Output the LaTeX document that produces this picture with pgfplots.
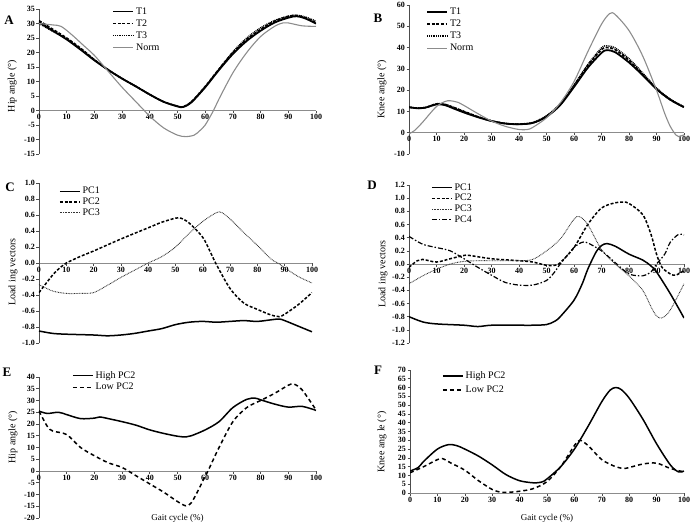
\documentclass[border=0pt]{standalone}
\usepackage{fontspec}
\setmainfont{Liberation Serif}
\usepackage{pgfplots}
\pgfplotsset{compat=1.18}

\pgfplotsset{
  panel/.style={
    scale only axis, anchor=south west,
    axis y line*=left, axis x line*=middle,
    enlargelimits=false,
    xmin=0, xmax=100, xtick={0,10,...,100},
    hide obscured x ticks=false,
    tick align=outside, major tick length=2.5pt,
    tick style={black!70, line width=0.6pt},
    x axis line style={black!45, line width=0.8pt},
    y axis line style={black!70, line width=0.7pt},
    tick label style={font=\fontsize{8}{9}\selectfont\bfseries},
    /pgf/number format/assume math mode=true,
    xticklabel style={inner sep=1pt},
    yticklabel style={inner sep=1.5pt},
    label style={font=\fontsize{10}{12}\selectfont},
    xlabel style={font=\fontsize{9}{11}\selectfont},
    legend style={draw=none, fill=none, anchor=north west,
      font=\fontsize{10}{11}\selectfont, row sep=0pt},
    legend cell align=left,
    legend image code/.code={\draw[##1] (0pt,0pt) -- (20pt,0pt);},
  },
  yl/.style 2 args={ylabel style={at={(axis description cs:#1,#2)}, anchor=center}},
  s1/.style={black, line width=1.8pt, smooth},
  s2/.style={black, line width=1.6pt, dash pattern=on 3pt off 1.6pt, smooth},
  s3/.style={black, line width=1.5pt, dash pattern=on 0.9pt off 0.9pt, smooth},
  sn/.style={black!45, line width=1.1pt, smooth},
  p1/.style={black, line width=1.5pt, smooth},
  p2/.style={black, line width=1.5pt, dash pattern=on 3pt off 1.8pt, smooth},
  p3/.style={black!80, line width=0.9pt, dash pattern=on 0.8pt off 0.8pt, smooth},
  p4/.style={black, line width=1.2pt, dash pattern=on 5pt off 2pt on 1.5pt off 2pt, smooth},
  l2/.style={black, line width=1.5pt, dash pattern=on 4pt off 3pt, smooth},
}

\begin{document}
\begin{tikzpicture}
\path[use as bounding box] (0,0) rectangle (697pt,-528pt);

% ---------- A: hip angle ----------
\begin{axis}[panel, at={(39pt,-154pt)}, width=277pt, height=145pt,
  ymin=-15, ymax=35, ytick={-15,-10,...,35},
  ylabel={Hip angle (°)}, yl={-0.097}{0.469},
  legend style={at={(axis description cs:0.253,1.04)}}]
\addplot[s1] coordinates {(0,30.5)(5,27.5)(10,24.5)(15,21)(20,17.3)(25,14)(30,11)(35,8.3)(40,5.5)(45,3)(50,1.4)(52,1.2)(55,2.8)(60,8)(65,14)(70,19.5)(75,24)(80,27.5)(85,30.3)(90,32)(93,32.5)(96,31.8)(100,30)};
\addplot[s2] coordinates {(0,31)(5,28)(10,25)(15,21.5)(20,17.5)(25,14)(30,11)(35,8.3)(40,5.5)(45,3)(50,1.5)(52,1.3)(55,3)(60,8.3)(65,14.3)(70,20)(75,24.5)(80,28)(85,30.8)(90,32.5)(93,32.8)(96,32)(100,30.3)};
\addplot[s3] coordinates {(0,30)(5,27.3)(10,24.7)(15,21.3)(20,17.5)(25,14)(30,11)(35,8.3)(40,5.5)(45,3)(50,1.5)(52,1.2)(55,3)(60,8.2)(65,14.3)(70,20.2)(75,25)(80,28.5)(85,31)(90,32.5)(93,32.8)(96,32.3)(100,30.8)};
\addplot[sn] coordinates {(0,30)(5,29.5)(8,29)(12,26)(16,22.5)(20,19)(25,13.5)(30,8)(35,3)(38,0)(40,-2)(45,-6)(50,-8.5)(53,-9)(56,-8.5)(58,-7)(60,-5)(63,0)(65,4)(70,13)(75,20)(80,25.5)(85,29)(88,30.2)(90,30.2)(95,29.2)(100,29)};
\legend{T1,T2,T3,Norm}
\end{axis}

% ---------- B: knee angle ----------
\begin{axis}[panel, at={(409pt,-154pt)}, width=275pt, height=149pt,
  ymin=-10, ymax=60, ytick={-10,0,...,60},
  ylabel={Knee angle (°)}, yl={-0.098}{0.436},
  legend style={at={(axis description cs:0.051,1.01)}}]
\addplot[s1] coordinates {(0,12)(3,11.5)(6,11.8)(10,13.3)(13,13)(16,11.5)(20,9.5)(25,7.3)(30,5.5)(35,4.3)(40,4)(45,4.6)(50,7.5)(55,13)(60,21.5)(65,30.5)(70,37.5)(72,38.8)(75,37.8)(80,33)(85,27)(90,20.5)(95,15.5)(100,12)};
\addplot[s2] coordinates {(0,12)(3,11.5)(6,11.8)(10,13.5)(13,13.3)(16,12)(20,10)(25,7.5)(30,5.5)(35,4.3)(40,4)(45,4.6)(50,7.7)(55,13.3)(60,22)(65,31.5)(70,39)(72,40)(75,39)(80,34)(85,27.5)(90,20.5)(95,15.5)(100,12)};
\addplot[s3] coordinates {(0,12)(3,11.6)(6,11.9)(10,13.6)(13,13.4)(16,12)(20,10)(25,7.6)(30,5.6)(35,4.4)(40,4.1)(45,4.8)(50,8)(55,13.6)(60,22.5)(65,32)(70,39.8)(72,40.8)(75,39.8)(80,34.8)(85,28)(90,21)(95,15.8)(100,12.2)};
\addplot[sn] coordinates {(0,-0.5)(2,1)(5,5)(10,12.3)(14,15)(18,14.2)(20,12.8)(25,9)(30,5.5)(35,3)(40,1.5)(43,1.5)(45,2.5)(50,7)(55,14)(60,24)(65,38)(70,51)(73,56)(75,55.5)(80,48)(85,36)(90,20)(93,9)(95,3)(97,-1)(98,-1.8)(100,-1)};
\legend{T1,T2,T3,Norm}
\end{axis}

% ---------- C: hip loading vectors ----------
\begin{axis}[panel, at={(39pt,-343pt)}, width=273pt, height=160pt,
  ymin=-1, ymax=1, ytick={-1,-0.8,-0.6,-0.4,-0.2,0,0.2,0.4,0.6,0.8,1},
  yticklabel style={/pgf/number format/.cd, fixed, fixed zerofill, precision=1},
  ylabel={Load ing vectors}, yl={-0.095}{0.444},
  legend style={at={(axis description cs:0.062,1.0)}, row sep=-1.5pt}]
\addplot[p1] coordinates {(0,-0.85)(5,-0.88)(10,-0.89)(20,-0.9)(25,-0.91)(30,-0.9)(35,-0.88)(40,-0.85)(45,-0.82)(50,-0.77)(55,-0.74)(60,-0.73)(65,-0.74)(70,-0.73)(75,-0.72)(80,-0.73)(85,-0.71)(88,-0.7)(90,-0.72)(95,-0.79)(100,-0.86)};
\addplot[p2] coordinates {(0,-0.37)(5,-0.15)(8,-0.05)(10,0)(15,0.08)(20,0.15)(30,0.3)(40,0.44)(45,0.51)(50,0.56)(52,0.56)(55,0.5)(60,0.32)(63,0.12)(65,-0.02)(70,-0.32)(75,-0.5)(80,-0.58)(85,-0.65)(88,-0.67)(90,-0.64)(95,-0.52)(100,-0.37)};
\addplot[p3] coordinates {(0,-0.27)(5,-0.35)(10,-0.38)(15,-0.38)(20,-0.37)(25,-0.28)(30,-0.18)(35,-0.09)(40,0)(45,0.08)(50,0.2)(55,0.37)(60,0.52)(65,0.63)(67,0.63)(70,0.55)(75,0.38)(80,0.22)(85,0.05)(88,-0.01)(90,-0.06)(95,-0.17)(100,-0.25)};
\legend{PC1,PC2,PC3}
\end{axis}

% ---------- D: knee loading vectors ----------
\begin{axis}[panel, at={(409pt,-343pt)}, width=275pt, height=158pt,
  ymin=-1.2, ymax=1.2, ytick={-1.2,-1,-0.8,-0.6,-0.4,-0.2,0,0.2,0.4,0.6,0.8,1,1.2},
  yticklabel style={/pgf/number format/.cd, fixed, fixed zerofill, precision=1},
  ylabel={Load ing vectors}, yl={-0.095}{0.437},
  legend style={at={(axis description cs:0.069,1.035)}, row sep=-1.5pt}]
\addplot[p1] coordinates {(0,-0.8)(5,-0.88)(10,-0.91)(20,-0.93)(25,-0.95)(30,-0.93)(40,-0.93)(45,-0.93)(50,-0.92)(53,-0.87)(55,-0.8)(60,-0.55)(63,-0.3)(65,-0.08)(68,0.18)(70,0.28)(72,0.31)(75,0.27)(80,0.15)(85,0.06)(88,-0.03)(90,-0.12)(95,-0.45)(100,-0.82)};
\addplot[p2] coordinates {(0,-0.05)(3,0.05)(5,0.07)(10,0.03)(15,0.08)(20,0.13)(22,0.13)(30,0.08)(40,0.05)(45,0.03)(50,-0.02)(53,-0.02)(55,0.02)(60,0.25)(65,0.6)(70,0.85)(75,0.93)(78,0.94)(80,0.92)(85,0.75)(88,0.45)(90,0.15)(92,-0.05)(95,-0.15)(97,-0.17)(100,-0.1)};
\addplot[p3] coordinates {(0,-0.3)(5,-0.18)(10,-0.08)(15,0)(20,0.04)(25,0.05)(30,0.05)(40,0.05)(45,0.07)(50,0.2)(55,0.38)(60,0.68)(62,0.72)(65,0.6)(70,0.22)(75,0)(80,-0.18)(85,-0.4)(88,-0.65)(90,-0.79)(92,-0.82)(95,-0.7)(100,-0.3)};
\addplot[p4] coordinates {(0,0.42)(5,0.3)(10,0.25)(15,0.2)(20,0.08)(25,-0.05)(30,-0.17)(35,-0.28)(40,-0.32)(45,-0.32)(50,-0.25)(53,-0.12)(55,0)(60,0.25)(63,0.33)(65,0.32)(70,0.2)(75,0.02)(80,-0.15)(85,-0.18)(88,-0.12)(90,0)(93,0.15)(95,0.33)(98,0.45)(100,0.44)};
\legend{PC1,PC2,PC3,PC4}
\end{axis}

% ---------- E: hip angle, high / low PC2 ----------
\begin{axis}[panel, at={(39pt,-518pt)}, width=277pt, height=141pt,
  ymin=-20, ymax=40, ytick={-20,-15,...,40},
  ylabel={Hip angle (°)}, yl={-0.094}{0.574},
  xlabel={Gait cycle (\%)}, xlabel style={at={(axis description cs:0.5,0)}, anchor=center},
  legend style={at={(axis description cs:0.108,1.07)}, row sep=-0.5pt}]
\addplot[p1] coordinates {(0,25.5)(3,24.5)(7,25)(10,24)(15,22.3)(20,22.5)(22,23)(25,22.3)(30,21)(35,19.5)(40,17.5)(45,16)(50,14.8)(53,14.5)(55,15)(60,17.5)(65,21)(70,27)(75,30.5)(78,31)(80,30.3)(85,28.5)(90,27.2)(95,27.5)(100,25.8)};
\addplot[l2] coordinates {(0,25.5)(3,19)(5,17)(10,15.5)(15,10)(20,6.5)(25,3.5)(30,1.5)(35,-2)(40,-5.5)(45,-9)(50,-13)(53,-14.8)(55,-13.5)(58,-7)(60,-2)(61,0)(65,10)(70,21)(75,27)(80,30)(85,33)(90,36.5)(92,37)(95,34.5)(100,26)};
\legend{High PC2,Low PC2}
\end{axis}

% ---------- F: knee angle, high / low PC2 ----------
\begin{axis}[panel, at={(410pt,-493pt)}, width=274pt, height=123pt,
  ymin=0, ymax=70, ytick={0,5,...,70},
  ylabel={Knee ang le (°)}, yl={-0.102}{0.415},
  xlabel={Gait cycle (\%)}, xlabel style={at={(axis description cs:0.5,-0.203)}, anchor=center},
  legend style={at={(axis description cs:0.106,1.02)}, row sep=1.5pt}]
\addplot[p1] coordinates {(0,12.5)(3,14.5)(5,18)(10,25)(14,27.5)(17,27)(20,25)(25,21)(30,16)(35,10.5)(40,7)(45,5.8)(48,6.2)(50,8)(55,15)(60,25)(65,38)(70,52)(73,58.5)(75,60)(77,59)(80,54)(85,42)(90,28)(95,16)(98,12)(100,12.5)};
\addplot[l2] coordinates {(0,11.5)(5,15)(10,19)(12,19.5)(15,17)(20,13)(25,7)(30,2)(33,0.5)(35,0.3)(40,1)(45,2.5)(50,6.5)(55,15)(60,27)(62,30)(65,27)(70,19)(75,15)(78,14)(80,14.5)(85,16.5)(90,17)(95,14)(100,12)};
\legend{High PC2,Low PC2}
\end{axis}

% panel letters
\begin{scope}[every node/.style={font=\fontsize{13}{15}\selectfont\bfseries}]
\node at (9pt,-20pt) {A};
\node at (378pt,-18pt) {B};
\node at (10pt,-187pt) {C};
\node at (372pt,-185pt) {D};
\node at (7pt,-372pt) {E};
\node at (378pt,-370pt) {F};
\end{scope}
\end{tikzpicture}
\end{document}
